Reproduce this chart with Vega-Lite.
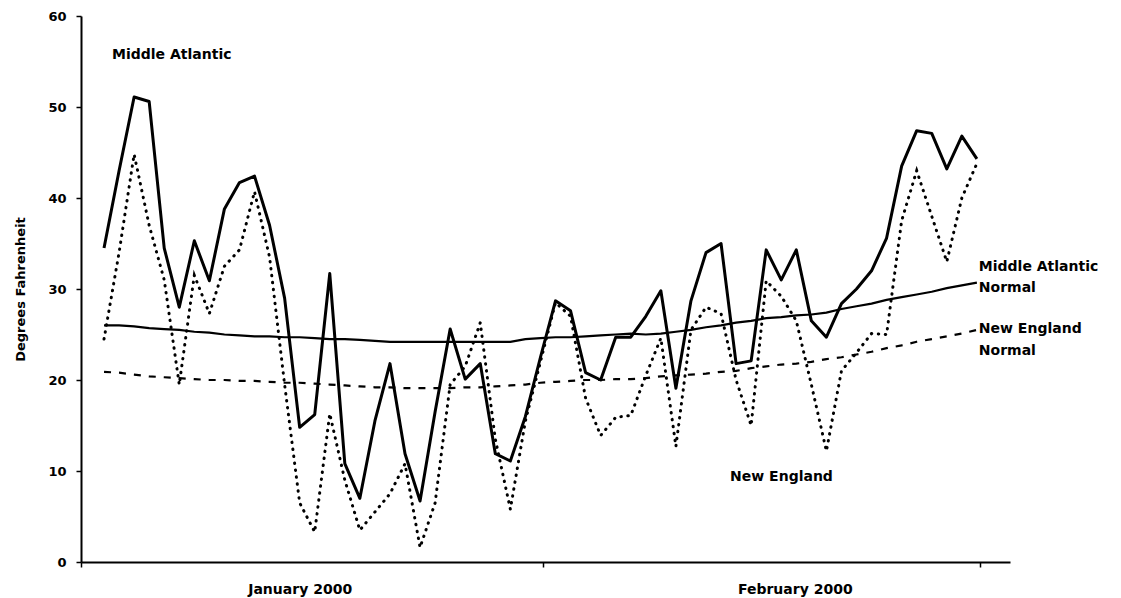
{
  "$schema": "https://vega.github.io/schema/vega-lite/v6.json",
  "autosize": {"type": "none"},
  "padding": {"left": 81, "top": 16, "right": 111, "bottom": 36},
  "width": 929,
  "height": 546,
  "background": "white",
  "config": {"view": {"stroke": null}, "font": "DejaVu Sans"},
  "datasets": {
    "temps": [
      {"day": 2, "ma": 34.5, "ne": 24.5, "man": 26.0, "nen": 20.9},
      {"day": 3, "ma": 43.0, "ne": 34.0, "man": 26.0, "nen": 20.8},
      {"day": 4, "ma": 51.1, "ne": 44.8, "man": 25.9, "nen": 20.6},
      {"day": 5, "ma": 50.6, "ne": 37.0, "man": 25.7, "nen": 20.4},
      {"day": 6, "ma": 34.5, "ne": 31.0, "man": 25.6, "nen": 20.3},
      {"day": 7, "ma": 28.0, "ne": 19.5, "man": 25.5, "nen": 20.2},
      {"day": 8, "ma": 35.3, "ne": 31.5, "man": 25.3, "nen": 20.1},
      {"day": 9, "ma": 30.9, "ne": 27.3, "man": 25.2, "nen": 20.0},
      {"day": 10, "ma": 38.8, "ne": 32.5, "man": 25.0, "nen": 20.0},
      {"day": 11, "ma": 41.7, "ne": 34.3, "man": 24.9, "nen": 19.9},
      {"day": 12, "ma": 42.4, "ne": 40.7, "man": 24.8, "nen": 19.9},
      {"day": 13, "ma": 37.0, "ne": 33.5, "man": 24.8, "nen": 19.8},
      {"day": 14, "ma": 29.0, "ne": 19.5, "man": 24.7, "nen": 19.7},
      {"day": 15, "ma": 14.8, "ne": 6.5, "man": 24.7, "nen": 19.7},
      {"day": 16, "ma": 16.2, "ne": 3.3, "man": 24.6, "nen": 19.6},
      {"day": 17, "ma": 31.7, "ne": 16.3, "man": 24.5, "nen": 19.5},
      {"day": 18, "ma": 10.8, "ne": 9.0, "man": 24.5, "nen": 19.4},
      {"day": 19, "ma": 7.0, "ne": 3.5, "man": 24.4, "nen": 19.3},
      {"day": 20, "ma": 15.5, "ne": 5.5, "man": 24.3, "nen": 19.2},
      {"day": 21, "ma": 21.8, "ne": 7.5, "man": 24.2, "nen": 19.2},
      {"day": 22, "ma": 11.9, "ne": 10.8, "man": 24.2, "nen": 19.1},
      {"day": 23, "ma": 6.7, "ne": 1.6, "man": 24.2, "nen": 19.1},
      {"day": 24, "ma": 16.5, "ne": 6.5, "man": 24.2, "nen": 19.1},
      {"day": 25, "ma": 25.6, "ne": 19.5, "man": 24.2, "nen": 19.1},
      {"day": 26, "ma": 20.1, "ne": 21.5, "man": 24.2, "nen": 19.2},
      {"day": 27, "ma": 21.8, "ne": 26.3, "man": 24.2, "nen": 19.2},
      {"day": 28, "ma": 11.9, "ne": 13.5, "man": 24.2, "nen": 19.3},
      {"day": 29, "ma": 11.1, "ne": 5.8, "man": 24.2, "nen": 19.4},
      {"day": 30, "ma": 16.0, "ne": 15.5, "man": 24.5, "nen": 19.5},
      {"day": 31, "ma": 22.5, "ne": 22.0, "man": 24.6, "nen": 19.7},
      {"day": 32, "ma": 28.7, "ne": 28.5, "man": 24.7, "nen": 19.8},
      {"day": 33, "ma": 27.6, "ne": 27.0, "man": 24.7, "nen": 19.9},
      {"day": 34, "ma": 20.8, "ne": 18.0, "man": 24.8, "nen": 20.0},
      {"day": 35, "ma": 20.0, "ne": 13.9, "man": 24.9, "nen": 20.0},
      {"day": 36, "ma": 24.7, "ne": 15.9, "man": 25.0, "nen": 20.1},
      {"day": 37, "ma": 24.7, "ne": 16.1, "man": 25.1, "nen": 20.1},
      {"day": 38, "ma": 27.0, "ne": 20.5, "man": 25.0, "nen": 20.2},
      {"day": 39, "ma": 29.8, "ne": 24.6, "man": 25.1, "nen": 20.4},
      {"day": 40, "ma": 19.1, "ne": 12.7, "man": 25.3, "nen": 20.5},
      {"day": 41, "ma": 28.7, "ne": 25.5, "man": 25.5, "nen": 20.6},
      {"day": 42, "ma": 34.0, "ne": 28.0, "man": 25.8, "nen": 20.7},
      {"day": 43, "ma": 35.0, "ne": 27.3, "man": 26.0, "nen": 20.9},
      {"day": 44, "ma": 21.8, "ne": 20.0, "man": 26.3, "nen": 21.0},
      {"day": 45, "ma": 22.1, "ne": 15.0, "man": 26.5, "nen": 21.3},
      {"day": 46, "ma": 34.3, "ne": 30.9, "man": 26.8, "nen": 21.5},
      {"day": 47, "ma": 31.0, "ne": 29.2, "man": 26.9, "nen": 21.7},
      {"day": 48, "ma": 34.3, "ne": 26.5, "man": 27.1, "nen": 21.8},
      {"day": 49, "ma": 26.5, "ne": 19.5, "man": 27.2, "nen": 22.0},
      {"day": 50, "ma": 24.7, "ne": 12.2, "man": 27.4, "nen": 22.3},
      {"day": 51, "ma": 28.4, "ne": 21.0, "man": 27.8, "nen": 22.5},
      {"day": 52, "ma": 30.0, "ne": 23.0, "man": 28.1, "nen": 22.8},
      {"day": 53, "ma": 32.0, "ne": 25.1, "man": 28.4, "nen": 23.1},
      {"day": 54, "ma": 35.6, "ne": 25.0, "man": 28.8, "nen": 23.5},
      {"day": 55, "ma": 43.5, "ne": 37.5, "man": 29.1, "nen": 23.8},
      {"day": 56, "ma": 47.4, "ne": 43.0, "man": 29.4, "nen": 24.2},
      {"day": 57, "ma": 47.1, "ne": 38.0, "man": 29.7, "nen": 24.5},
      {"day": 58, "ma": 43.2, "ne": 33.0, "man": 30.1, "nen": 24.8},
      {"day": 59, "ma": 46.8, "ne": 40.0, "man": 30.4, "nen": 25.1},
      {"day": 60, "ma": 44.3, "ne": 43.8, "man": 30.7, "nen": 25.5}
    ],
    "labels": [
      {"day": 2.53, "temp": 55.7, "text": "Middle Atlantic"},
      {"day": 60.13, "temp": 32.4, "text": "Middle Atlantic"},
      {"day": 60.13, "temp": 30.1, "text": "Normal"},
      {"day": 60.13, "temp": 25.6, "text": "New England"},
      {"day": 60.13, "temp": 23.2, "text": "Normal"},
      {"day": 43.6, "temp": 9.3, "text": "New England"}
    ]
  },
  "layer": [
    {
      "data": {"name": "temps"},
      "mark": {"type": "line", "color": "black", "strokeWidth": 2.2, "strokeDash": [7, 8]},
      "encoding": {
        "x": {
          "field": "day", "type": "quantitative",
          "scale": {"domain": [0.47, 62.2], "nice": false, "zero": false},
          "axis": {
            "title": null, "grid": false,
            "values": [0.47, 15, 31.17, 47.9, 60.2],
            "labelExpr": "datum.value == 15 ? 'January 2000' : datum.value == 47.9 ? 'February 2000' : ''",
            "labelOverlap": false, "labelFlush": false, "labelBound": false,
            "labelFont": "DejaVu Sans", "labelFontWeight": "bold", "labelFontSize": 14, "labelColor": "black",
            "labelBaseline": "top", "labelPadding": 15,
            "domainColor": "black", "domainWidth": 2,
            "tickColor": "black", "tickWidth": 1.5, "tickSize": 5,
            "tickOpacity": {"condition": {"test": "datum.value == 15 || datum.value == 47.9", "value": 0}, "value": 1}
          }
        },
        "y": {
          "field": "nen", "type": "quantitative",
          "scale": {"domain": [0, 60], "nice": false},
          "axis": {
            "title": "Degrees Fahrenheit", "grid": false,
            "values": [0, 10, 20, 30, 40, 50, 60],
            "labelFont": "DejaVu Sans", "labelFontWeight": "bold", "labelFontSize": 13, "labelColor": "black",
            "labelPadding": 10,
            "titleFont": "DejaVu Sans", "titleFontWeight": "bold", "titleFontSize": 13, "titleColor": "black",
            "titlePadding": 20,
            "domainColor": "black", "domainWidth": 2,
            "tickColor": "black", "tickWidth": 1.5, "tickSize": 5
          }
        }
      }
    },
    {
      "data": {"name": "temps"},
      "mark": {"type": "line", "color": "black", "strokeWidth": 2.2},
      "encoding": {
        "x": {"field": "day", "type": "quantitative"},
        "y": {"field": "man", "type": "quantitative"}
      }
    },
    {
      "data": {"name": "temps"},
      "mark": {"type": "line", "color": "black", "strokeWidth": 3, "strokeDash": [0.5, 6.5], "strokeCap": "round"},
      "encoding": {
        "x": {"field": "day", "type": "quantitative"},
        "y": {"field": "ne", "type": "quantitative"}
      }
    },
    {
      "data": {"name": "temps"},
      "mark": {"type": "line", "color": "black", "strokeWidth": 3, "strokeJoin": "round"},
      "encoding": {
        "x": {"field": "day", "type": "quantitative"},
        "y": {"field": "ma", "type": "quantitative"}
      }
    },
    {
      "data": {"name": "labels"},
      "mark": {"type": "text", "align": "left", "baseline": "middle", "font": "DejaVu Sans", "fontWeight": "bold", "fontSize": 14, "color": "black"},
      "encoding": {
        "x": {"field": "day", "type": "quantitative"},
        "y": {"field": "temp", "type": "quantitative"},
        "text": {"field": "text"}
      }
    }
  ]
}
